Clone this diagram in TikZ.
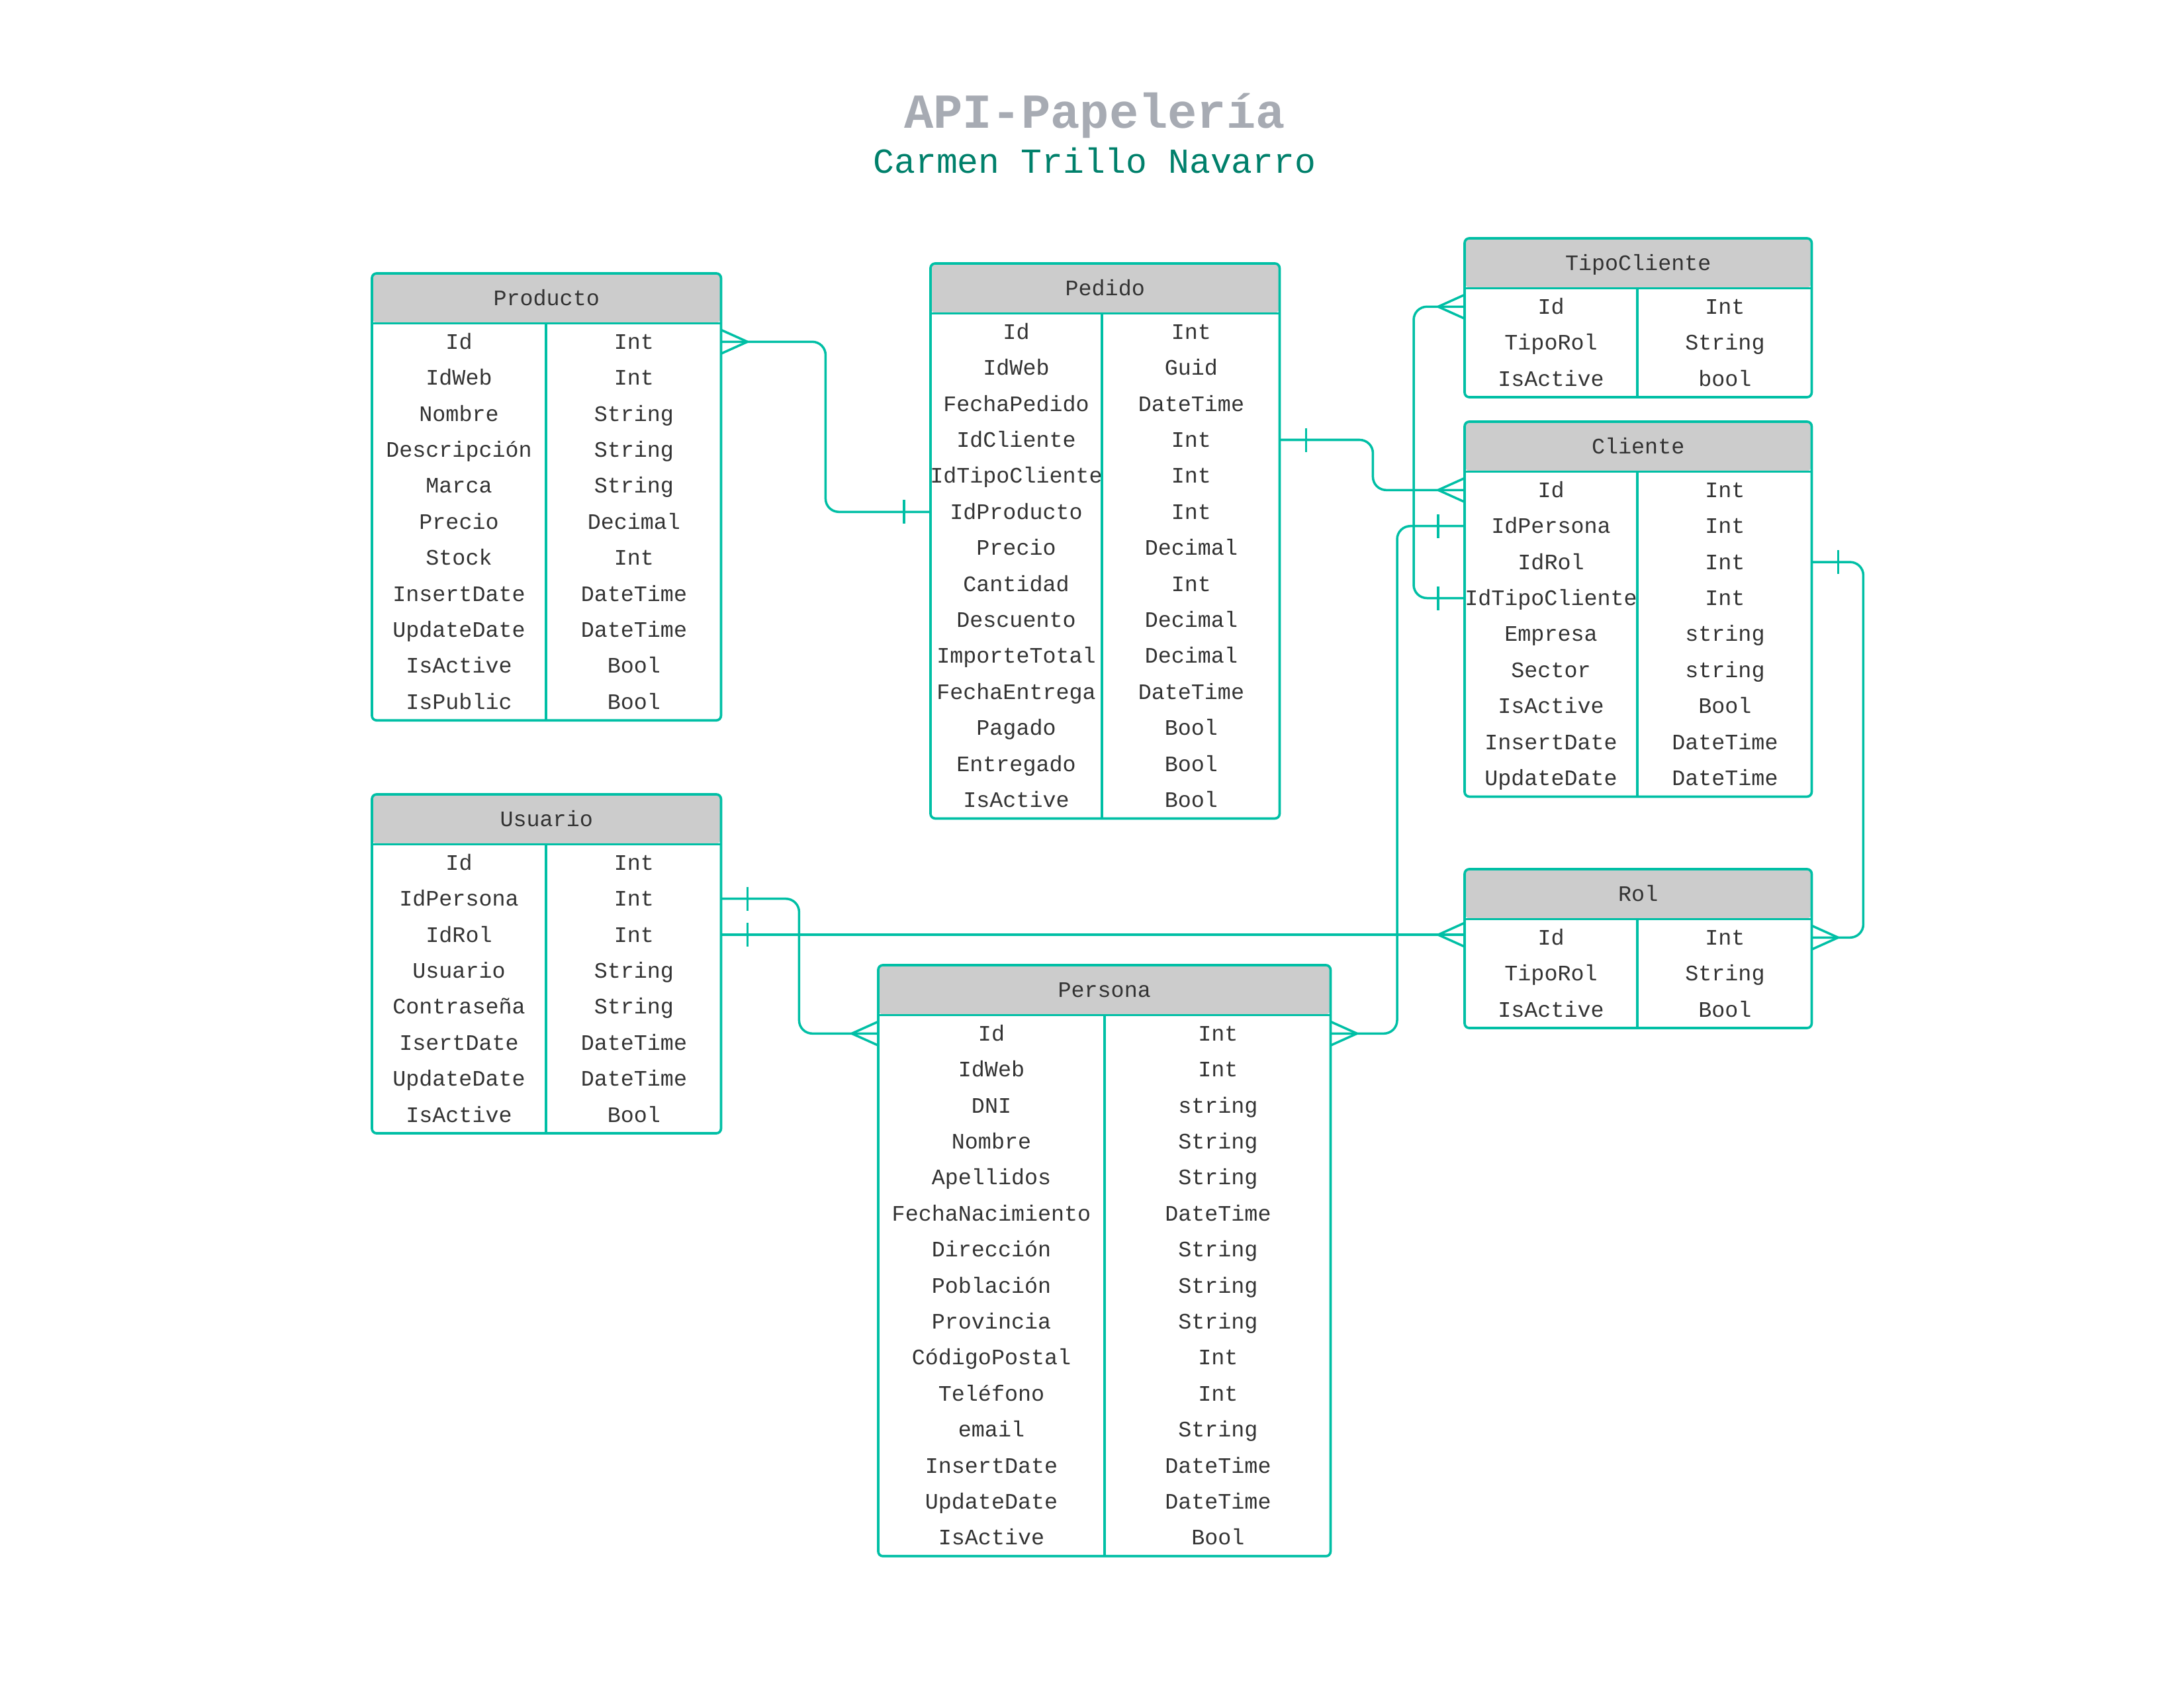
\documentclass[tikz,border=0pt]{standalone}
\usepackage{fontspec}
\setmonofont{Liberation Mono}
\usepackage{tikz}
\usetikzlibrary{calc, positioning, decorations.markings}
\definecolor{TealLine}{HTML}{00BFA5}
\definecolor{HeadGray}{HTML}{CCCCCC}
\definecolor{TextDark}{HTML}{333333}
\definecolor{TitleGray}{HTML}{A7ABB3}
\definecolor{TitleTeal}{HTML}{00806B}
\tikzset{
  tablehead/.style={rectangle, rounded corners=0.07cm, fill=HeadGray, minimum height=0.74cm, inner sep=0pt, text=TextDark, font=\ttfamily\fontsize{9.5}{11}\selectfont, text height=6.26pt, text depth=0pt},
  tablerow/.style={rectangle, minimum height=0.544cm, inner sep=0pt},
  fieldtext/.style={inner sep=0pt, text=TextDark, font=\ttfamily\fontsize{9.5}{11}\selectfont, text height=6.26pt, text depth=0pt},
  tableline/.style={draw=TealLine, line width=1.05pt},
  relline/.style={draw=TealLine, line width=1pt, rounded corners=0.2cm},
  manystart/.style={postaction={decorate, decoration={markings, mark=at position 0.4cm with {\draw[draw=TealLine, line width=1pt] (0,0) -- (-0.4,0.18) (0,0) -- (-0.4,-0.18);}}}},
  manyend/.style={postaction={decorate, decoration={markings, mark=at position -0.4cm with {\draw[draw=TealLine, line width=1pt] (0,0) -- (0.4,0.18) (0,0) -- (0.4,-0.18);}}}},
  onestart/.style={postaction={decorate, decoration={markings, mark=at position 0.4cm with {\draw[draw=TealLine, line width=1pt] (0,0.18) -- (0,-0.18);}}}},
  oneend/.style={postaction={decorate, decoration={markings, mark=at position -0.4cm with {\draw[draw=TealLine, line width=1pt] (0,0.18) -- (0,-0.18);}}}}
}
% #1 name, #2 top left corner, #3 width, #4 width of field column, #5 title, #6 field/type rows
\newcommand{\ertable}[6]{%
  \node[tablehead, minimum width=#3cm, anchor=north west] (#1) at #2 {#5};
  \foreach \fld/\typ [count=\i] in {#6} {
    \node[tablerow, minimum width=#3cm, anchor=north] (#1-\i) at ($(#1.south)+(0,{-0.544*(\i-1)})$) {};
    \node[fieldtext] (#1-\i-f) at ($(#1-\i.west)+(#4/2,0)$) {\fld};
    \node[fieldtext] (#1-\i-t) at ($(#1-\i.east)+({-(#3-#4)/2},0)$) {\typ};
    \xdef\lastrow{\i}
  }
  \draw[tableline] ($(#1.south west)+(#4,0)$) -- ($(#1-\lastrow.south west)+(#4,0)$);
  \draw[tableline] (#1.south west) -- (#1.south east);
  \draw[tableline, rounded corners=0.07cm] (#1.north west) rectangle (#1-\lastrow.south east);
}

\begin{document}
\begin{tikzpicture}
  \useasboundingbox (0,0) rectangle (33,-25.5);

  % title
  \node[anchor=base, text=TitleGray, font=\ttfamily\bfseries\fontsize{21}{25}\selectfont] (title) at (16.54,-1.94) {API-Papelería};
  \node[anchor=base, text=TitleTeal, font=\ttfamily\fontsize{15.1}{18}\selectfont] (author) at (16.54,-2.62) {Carmen Trillo Navarro};

  % tables
  \ertable{producto}{(5.62,-4.13)}{5.26}{2.63}{Producto}{Id/Int, IdWeb/Int, Nombre/String, Descripción/String, Marca/String, Precio/Decimal, Stock/Int, InsertDate/DateTime, UpdateDate/DateTime, IsActive/Bool, IsPublic/Bool}
  \ertable{pedido}{(14.06,-3.98)}{5.26}{2.59}{Pedido}{Id/Int, IdWeb/Guid, FechaPedido/DateTime, IdCliente/Int, IdTipoCliente/Int, IdProducto/Int, Precio/Decimal, Cantidad/Int, Descuento/Decimal, ImporteTotal/Decimal, FechaEntrega/DateTime, Pagado/Bool, Entregado/Bool, IsActive/Bool}
  \ertable{tipocliente}{(22.13,-3.60)}{5.23}{2.61}{TipoCliente}{Id/Int, TipoRol/String, IsActive/bool}
  \ertable{cliente}{(22.13,-6.37)}{5.23}{2.61}{Cliente}{Id/Int, IdPersona/Int, IdRol/Int, IdTipoCliente/Int, Empresa/string, Sector/string, IsActive/Bool, InsertDate/DateTime, UpdateDate/DateTime}
  \ertable{rol}{(22.13,-13.13)}{5.23}{2.61}{Rol}{Id/Int, TipoRol/String, IsActive/Bool}
  \ertable{usuario}{(5.62,-12.00)}{5.26}{2.63}{Usuario}{Id/Int, IdPersona/Int, IdRol/Int, Usuario/String, Contraseña/String, IsertDate/DateTime, UpdateDate/DateTime, IsActive/Bool}
  \ertable{persona}{(13.27,-14.58)}{6.82}{3.42}{Persona}{Id/Int, IdWeb/Int, DNI/string, Nombre/String, Apellidos/String, FechaNacimiento/DateTime, Dirección/String, Población/String, Provincia/String, CódigoPostal/Int, Teléfono/Int, email/String, InsertDate/DateTime, UpdateDate/DateTime, IsActive/Bool}

  % relations
  \draw[relline, manystart, oneend] (producto-1.east) -- ++(1.58,0) |- (pedido-6.west);
  \draw[relline, onestart, manyend] (pedido-4.east) -- ++(1.41,0) |- (cliente-1.west);
  \draw[relline, manystart, oneend] (tipocliente-1.west) -- ++(-0.77,0) |- (cliente-4.west);
  \draw[relline, onestart, manyend] (cliente-2.west) -- ++(-1.02,0) |- (persona-1.east);
  \draw[relline, onestart, manyend] (cliente-3.east) -- ++(0.78,0) |- (rol-1.east);
  \draw[relline, onestart, manyend] (usuario-2.east) -- ++(1.18,0) |- (persona-1.west);
  \draw[relline, onestart, manyend] (usuario-3.east) -- (usuario-3.east -| rol-1.west);
\end{tikzpicture}
\end{document}
